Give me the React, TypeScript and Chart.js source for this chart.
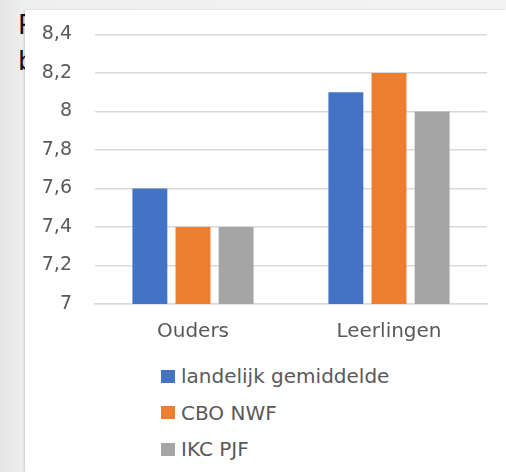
import React, { useEffect, useRef } from "react";
import { Chart, registerables } from "chart.js";

Chart.register(...registerables);

const categories = ["Ouders", "Leerlingen"];
const seriesNames = ["landelijk gemiddelde", "CBO NWF", "IKC PJF"];
const landelijk = [7.6, 8.1];
const cboNwf = [7.4, 8.2];
const ikcPjf = [7.4, 8.0];
const seriesColors = ["#4472C4", "#ED7D31", "#A5A5A5"];
const yTickValues = [7, 7.2, 7.4, 7.6, 7.8, 8, 8.2, 8.4];
const yTickLabels = ["7", "7,2", "7,4", "7,6", "7,8", "8", "8,2", "8,4"];

const FONT = "'DejaVu Sans', sans-serif";
const TEXT = "#595959";

export default function App() {
  const ref = useRef<HTMLCanvasElement | null>(null);

  useEffect(() => {
    if (!ref.current) return;
    const values = [landelijk, cboNwf, ikcPjf];
    const chart = new Chart(ref.current, {
      type: "bar",
      data: {
        labels: categories,
        datasets: seriesNames.map((name, i) => ({
          label: name,
          data: values[i],
          backgroundColor: seriesColors[i],
          borderWidth: 0,
          categoryPercentage: 0.66,
          barPercentage: 0.81,
        })),
      },
      options: {
        animation: false,
        responsive: false,
        maintainAspectRatio: false,
        layout: { padding: { left: 0, right: 19, top: 15, bottom: 0 } },
        plugins: {
          legend: { display: false },
          tooltip: { enabled: false },
        },
        scales: {
          x: {
            grid: { display: false, drawTicks: false },
            border: { display: true, color: "#d9d9d9", width: 1.5 },
            ticks: {
              color: TEXT,
              font: { family: FONT, size: 20 },
              padding: 16,
            },
          },
          y: {
            min: 7,
            max: 8.4,
            afterFit: (scale: any) => {
              scale.width = 70;
            },
            afterBuildTicks: (scale: any) => {
              scale.ticks = yTickValues.map((v) => ({ value: v }));
            },
            grid: { color: "#d9d9d9", lineWidth: 1.5, drawTicks: false },
            border: { display: false },
            ticks: {
              color: TEXT,
              font: { family: FONT, size: 19 },
              padding: 23,
              callback: (v: any) => {
                const idx = yTickValues.findIndex((t) => Math.abs(t - Number(v)) < 1e-6);
                return idx >= 0 ? yTickLabels[idx] : "";
              },
            },
          },
        },
      },
    });
    return () => chart.destroy();
  }, []);

  return (
    <div
      style={{
        position: "fixed",
        left: 0,
        top: 0,
        width: 506,
        height: 472,
        overflow: "hidden",
        background: "linear-gradient(90deg, #e4e4e4 0px, #efefef 25px, #f4f4f4 506px)",
      }}
    >
      <div
        style={{
          position: "absolute",
          left: 18,
          top: 7,
          fontFamily: FONT,
          fontSize: 26,
          lineHeight: "36px",
          color: "#111",
          whiteSpace: "nowrap",
        }}
      >
        <div>Rapportcijfers tevredenheid</div>
        <div>beoordeling</div>
      </div>
      <div
        style={{
          position: "absolute",
          left: 25,
          top: 10,
          width: 481,
          height: 462,
          background: "#ffffff",
          boxShadow: "-1px 0 2px rgba(0,0,0,0.15)",
        }}
      >
        <canvas
          ref={ref}
          width={481}
          height={360}
          style={{ position: "absolute", left: 0, top: -10, width: 481, height: 360, display: "block" }}
        />
        {seriesNames.map((name, i) => (
          <div
            key={name}
            style={{
              position: "absolute",
              left: 136,
              top: 354 + i * 36.5,
              height: 24,
              display: "flex",
              alignItems: "center",
              fontFamily: FONT,
              fontSize: 20,
              color: TEXT,
              whiteSpace: "nowrap",
            }}
          >
            <span
              style={{
                display: "inline-block",
                width: 14,
                height: 13,
                background: seriesColors[i],
                marginRight: 6,
              }}
            />
            {name}
          </div>
        ))}
      </div>
    </div>
  );
}
